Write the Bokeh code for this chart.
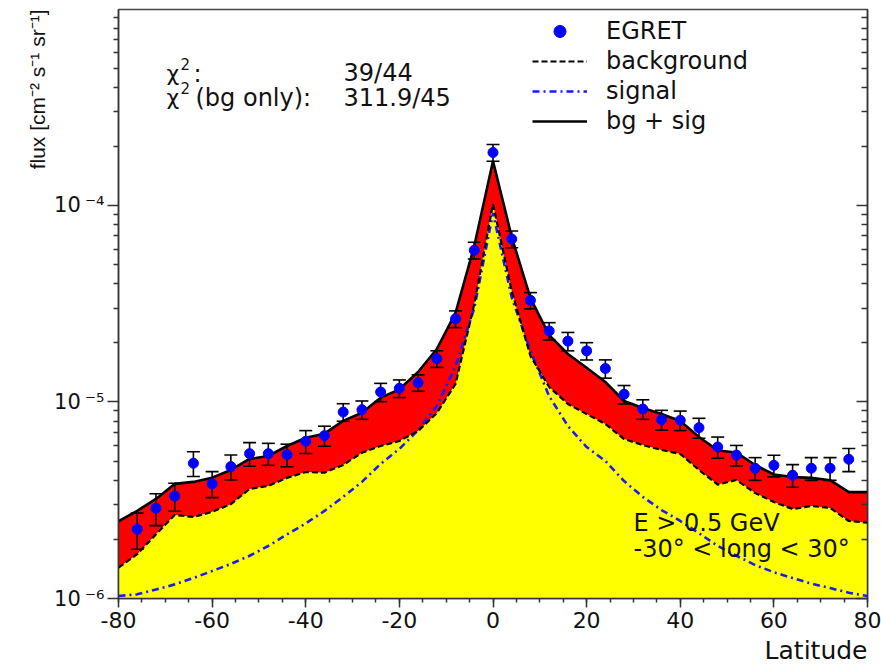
from bokeh.plotting import figure
from bokeh.models import (ColumnDataSource, Label, Legend, LegendItem, FixedTicker,
                          LogAxis, CustomJSTickFormatter, Range1d, Title)
from bokeh.embed import file_html
from bokeh.resources import INLINE

# ---------------- data ----------------
lat_data = [-76, -72, -68, -64, -60, -56, -52, -48, -44, -40,
            -36, -32, -28, -24, -20, -16, -12, -8, -4,
            0, 4, 8, 12, 16, 20, 24, 28, 32, 36,
            40, 44, 48, 52, 56, 60, 64, 68, 72, 76]
flux = [2.25e-6, 2.88e-6, 3.32e-6, 4.88e-6, 3.84e-6, 4.69e-6, 5.46e-6, 5.46e-6, 5.39e-6, 6.31e-6,
        6.74e-6, 8.89e-6, 9.14e-6, 1.124e-5, 1.174e-5, 1.254e-5, 1.661e-5, 2.65e-5, 5.92e-5,
        1.86e-4, 6.75e-5, 3.29e-5, 2.30e-5, 2.04e-5, 1.82e-5, 1.48e-5, 1.095e-5, 9.21e-6, 8.13e-6,
        8.07e-6, 7.40e-6, 5.90e-6, 5.37e-6, 4.60e-6, 4.76e-6, 4.24e-6, 4.60e-6, 4.60e-6, 5.11e-6]
flux_err = [0.47e-6, 0.53e-6, 0.54e-6, 0.70e-6, 0.58e-6, 0.68e-6, 0.75e-6, 0.70e-6, 0.71e-6, 0.84e-6,
            0.79e-6, 0.91e-6, 0.98e-6, 1.20e-6, 1.21e-6, 1.20e-6, 1.61e-6, 2.58e-6, 5.8e-6,
            1.82e-5, 6.6e-6, 3.13e-6, 2.33e-6, 2.19e-6, 1.84e-6, 1.58e-6, 1.18e-6, 1.05e-6, 0.94e-6,
            0.92e-6, 0.86e-6, 0.73e-6, 0.64e-6, 0.61e-6, 0.60e-6, 0.56e-6, 0.61e-6, 0.61e-6, 0.69e-6]

lat_curve = [-80, -76, -72, -68, -64, -60, -56, -52, -48, -44,
             -40, -36, -32, -28, -24, -20, -16, -12, -8, -4,
             0,
             4, 8, 12, 16, 20, 24, 28, 32, 36, 40,
             44, 48, 52, 56, 60, 64, 68, 72, 76, 80]
bg_plus_sig = [2.47e-6, 2.79e-6, 3.21e-6, 3.83e-6, 3.92e-6, 4.12e-6, 4.51e-6, 5.13e-6, 5.31e-6, 5.97e-6,
               6.58e-6, 6.90e-6, 8.01e-6, 8.82e-6, 1.052e-5, 1.160e-5, 1.421e-5, 1.861e-5, 2.84e-5, 6.22e-5,
               1.684e-4,
               6.91e-5, 3.38e-5, 2.19e-5, 1.755e-5, 1.495e-5, 1.264e-5, 1.012e-5, 9.32e-6, 8.69e-6, 8.01e-6,
               6.64e-6, 5.67e-6, 5.53e-6, 4.78e-6, 4.28e-6, 4.15e-6, 4.11e-6, 4.00e-6, 3.48e-6, 3.48e-6]
background = [1.435e-6, 1.68e-6, 2.12e-6, 2.66e-6, 2.60e-6, 2.76e-6, 3.02e-6, 3.61e-6, 3.74e-6, 4.11e-6,
              4.40e-6, 4.37e-6, 4.78e-6, 5.52e-6, 5.97e-6, 6.33e-6, 7.12e-6, 8.79e-6, 1.235e-5, 3.15e-5,
              1.018e-4,
              3.67e-5, 1.715e-5, 1.192e-5, 9.77e-6, 8.69e-6, 7.73e-6, 6.48e-6, 6.04e-6, 5.70e-6, 5.44e-6,
              4.51e-6, 3.80e-6, 4.01e-6, 3.44e-6, 3.10e-6, 2.85e-6, 2.96e-6, 2.89e-6, 2.48e-6, 2.43e-6]
signal = [1.03e-6, 1.05e-6, 1.11e-6, 1.18e-6, 1.27e-6, 1.38e-6, 1.50e-6, 1.65e-6, 1.85e-6, 2.12e-6,
          2.41e-6, 2.79e-6, 3.29e-6, 3.92e-6, 4.84e-6, 5.77e-6, 7.20e-6, 9.54e-6, 1.52e-5, 3.0e-5,
          9.16e-5,
          3.4e-5, 1.82e-5, 1.07e-5, 7.55e-6, 5.90e-6, 5.01e-6, 3.96e-6, 3.29e-6, 2.82e-6, 2.48e-6,
          2.15e-6, 1.85e-6, 1.65e-6, 1.48e-6, 1.36e-6, 1.27e-6, 1.19e-6, 1.13e-6, 1.07e-6, 1.03e-6]

x_ticks = [-80, -60, -40, -20, 0, 20, 40, 60, 80]
y_ticks = [1e-6, 1e-5, 1e-4]
legend_labels = ["EGRET", "background", "signal", "bg + sig"]
x_title = "Latitude"
y_title = "flux [cm\u207b\u00b2 s\u207b\u00b9 sr\u207b\u00b9]"
chi2_fit = "39/44"
chi2_bg = "311.9/45"
note_lines = ["E > 0.5 GeV", "-30\u00b0 < long < 30\u00b0"]

# ---------------- figure ----------------
XMIN, XMAX = -80, 80
YMIN, YMAX = 1e-6, 9.94e-4
FONT = "DejaVu Sans"
TXT = "#111111"
AX = "#333333"

p = figure(width=881, height=668, y_axis_type="log", output_backend="svg",
           toolbar_location=None, x_range=Range1d(XMIN, XMAX), y_range=Range1d(YMIN, YMAX))
p.min_border_left = 118
p.min_border_right = 14
p.min_border_top = 9
p.min_border_bottom = 70
p.background_fill_color = "white"
p.border_fill_color = "white"
p.outline_line_color = "#444444"
p.outline_line_width = 1.5
p.xgrid.visible = False
p.ygrid.visible = False

ymin_list = [YMIN] * len(lat_curve)
p.varea(x=lat_curve, y1=ymin_list, y2=background, fill_color="#ffff00")
p.varea(x=lat_curve, y1=background, y2=bg_plus_sig, fill_color="#ff0000")
r_sig = p.line(lat_curve, signal, line_color="#1a1aff", line_width=2.6, line_dash="7 4 2 4")
r_bg = p.line(lat_curve, background, line_color="black", line_width=2.2, line_dash="6 3")
r_tot = p.line(lat_curve, bg_plus_sig, line_color="black", line_width=2.6)

upper = [f + e for f, e in zip(flux, flux_err)]
lower = [f - e for f, e in zip(flux, flux_err)]
src = ColumnDataSource(dict(lat=lat_data, flux=flux, upper=upper, lower=lower))
p.segment(x0="lat", y0="lower", x1="lat", y1="upper", source=src, line_color="black", line_width=1.6)
p.scatter(x="lat", y="upper", source=src, marker="dash", size=13, line_color="black", line_width=1.6)
p.scatter(x="lat", y="lower", source=src, marker="dash", size=13, line_color="black", line_width=1.6)
r_pts = p.scatter(x="lat", y="flux", source=src, size=10, fill_color="#0000ff", line_color="#0000ff")

# ---------------- axes ----------------
xax = p.xaxis[0]
xax.ticker = FixedTicker(ticks=x_ticks, minor_ticks=list(range(-80, 81, 5)))
xax.formatter = CustomJSTickFormatter(code="return tick.toFixed(0);")
xax.major_tick_out = 9
xax.major_tick_in = 0
xax.minor_tick_out = 4
xax.minor_tick_in = 0
xax.axis_line_color = AX
xax.axis_line_width = 1.5
xax.major_tick_line_color = AX
xax.minor_tick_line_color = AX
xax.major_tick_line_width = 1.5
xax.minor_tick_line_width = 1.5
xax.major_label_text_font = FONT
xax.major_label_text_font_size = "22px"
xax.major_label_text_color = TXT
xax.major_label_standoff = 4

y_minor = [m * 10.0 ** e for e in (-6, -5, -4) for m in range(2, 10)]
yax = p.yaxis[0]
yax.ticker = FixedTicker(ticks=y_ticks, minor_ticks=y_minor)
yax.formatter = CustomJSTickFormatter(code="""
const sup = {"-": "\\u207b", "0": "\\u2070", "1": "\\u00b9", "2": "\\u00b2", "3": "\\u00b3",
             "4": "\\u2074", "5": "\\u2075", "6": "\\u2076", "7": "\\u2077", "8": "\\u2078", "9": "\\u2079"};
const e = String(Math.round(Math.log10(tick)));
return "10\\u2009" + e.split("").map(c => sup[c]).join("");
""")
yax.major_tick_out = 11
yax.major_tick_in = 0
yax.minor_tick_out = 5
yax.minor_tick_in = 0
yax.axis_line_color = AX
yax.axis_line_width = 1.5
yax.major_tick_line_color = AX
yax.minor_tick_line_color = AX
yax.major_tick_line_width = 1.5
yax.minor_tick_line_width = 1.5
yax.major_label_text_font = FONT
yax.major_label_text_font_size = "21px"
yax.major_label_text_color = TXT
yax.major_label_standoff = 3

rax = LogAxis(ticker=FixedTicker(ticks=y_ticks, minor_ticks=y_minor),
              formatter=CustomJSTickFormatter(code="return '';"),
              major_tick_in=11, major_tick_out=0, minor_tick_in=6, minor_tick_out=0,
              major_label_standoff=0, major_label_text_font_size="1px",
              axis_line_color=AX, axis_line_width=1.5,
              major_tick_line_color=AX, minor_tick_line_color=AX,
              major_tick_line_width=1.5, minor_tick_line_width=1.5)
p.add_layout(rax, "right")

# axis titles (as side titles so they sit outside the frame)
p.add_layout(Title(text=x_title, align="right", text_font=FONT, text_font_size="25px",
                   text_font_style="normal", text_color=TXT, standoff=7), "below")
p.add_layout(Title(text=y_title, align="right", text_font="Liberation Sans", text_font_size="21px",
                   text_font_style="normal", text_color=TXT, standoff=5), "left")


def lab(x, y, text, xo, yo, size, align="left", baseline="alphabetic", font=FONT):
    p.add_layout(Label(x=x, y=y, x_offset=xo, y_offset=yo, text=text, text_font=font,
                       text_font_size=f"{size}px", text_align=align, text_baseline=baseline,
                       text_color=TXT))


# chi2 box
lab(XMIN, YMAX, "\u03c7", 48, -64, 22)
lab(XMIN, YMAX, "2", 62, -54, 15)
lab(XMIN, YMAX, ":", 75, -64, 24)
lab(XMIN, YMAX, chi2_fit, 225, -63, 24)
lab(XMIN, YMAX, "\u03c7", 48, -88, 22)
lab(XMIN, YMAX, "2", 62, -78, 15)
lab(XMIN, YMAX, "(bg only):", 77, -88, 24)
lab(XMIN, YMAX, chi2_bg, 225, -88, 24)

# energy / longitude note
lab(XMIN, YMIN, note_lines[0], 515, 76, 24)
lab(XMIN, YMIN, note_lines[1], 515, 50, 24)

# ---------------- legend ----------------
legend = Legend(items=[LegendItem(label=legend_labels[0], renderers=[r_pts]),
                       LegendItem(label=legend_labels[1], renderers=[r_bg]),
                       LegendItem(label=legend_labels[2], renderers=[r_sig]),
                       LegendItem(label=legend_labels[3], renderers=[r_tot])],
                location=(414, 462), orientation="vertical",
                glyph_width=55, glyph_height=30, label_height=30, spacing=0,
                label_standoff=19, padding=0, margin=0,
                border_line_alpha=0, background_fill_alpha=0,
                label_text_font=FONT, label_text_font_size="24px", label_text_color=TXT)
p.add_layout(legend)

open("out.html", "w").write(file_html(p, INLINE))
